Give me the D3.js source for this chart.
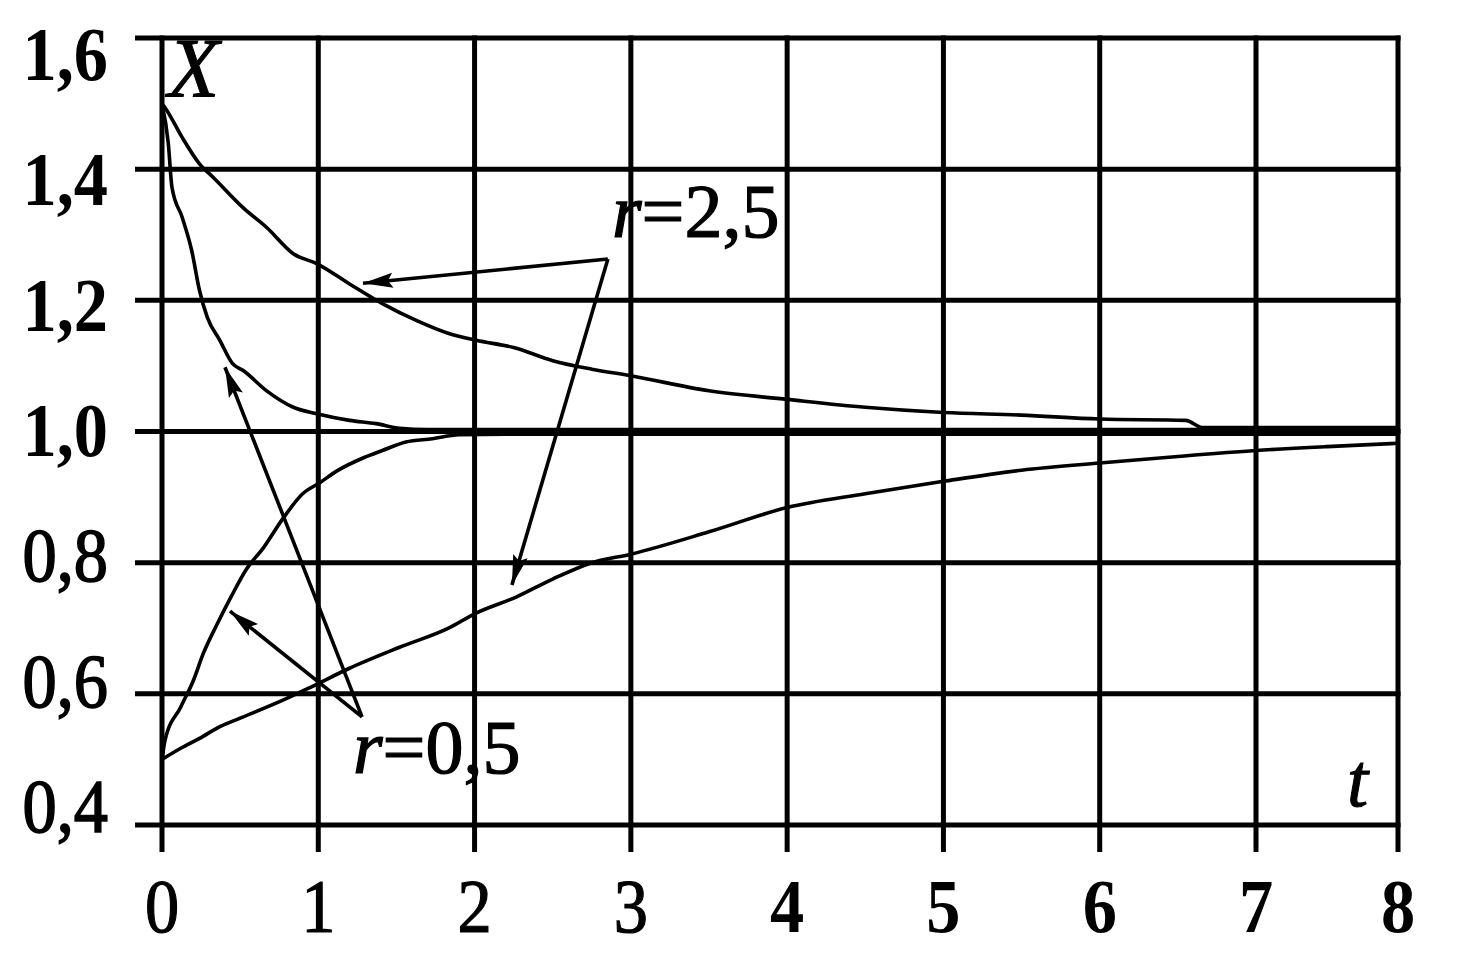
<!DOCTYPE html>
<html>
<head>
<meta charset="utf-8">
<script src="https://cdn.jsdelivr.net/npm/d3@7"></script>
<style>
  html, body { margin: 0; padding: 0; background: #fff; }
  svg { display: block; }
  text { font-family: "Liberation Serif", "Times New Roman", serif; fill: #000; }
</style>
</head>
<body>
<svg id="chart" width="1466" height="980"></svg>
<script>
// ---------- data ----------
const tTicks = [0, 1, 2, 3, 4, 5, 6, 7, 8];
const tTickLabels = ["0", "1", "2", "3", "4", "5", "6", "7", "8"];
const xTicks = [0.4, 0.6, 0.8, 1.0, 1.2, 1.4, 1.6];
const xTickLabels = ["0,4", "0,6", "0,8", "1,0", "1,2", "1,4", "1,6"];

// r = 2,5 : slow decay from 1.5
const upperR25T = [0, 0.03, 0.13, 0.24, 0.33, 0.52, 0.67, 0.84, 0.99, 1.2, 1.41, 1.63, 1.84, 2.01, 2.25, 2.5, 2.75, 3.0, 3.5, 4.0, 4.5, 5.0, 5.5, 6.0, 6.55, 6.66, 7.0, 7.5, 8.0];
const upperR25X = [1.50, 1.49, 1.448, 1.408, 1.387, 1.341, 1.311, 1.271, 1.256, 1.225, 1.195, 1.169, 1.149, 1.139, 1.128, 1.108, 1.095, 1.085, 1.062, 1.049, 1.037, 1.029, 1.025, 1.019, 1.017, 1.006, 1.006, 1.006, 1.006];
// r = 2,5 : slow rise from 0.5
const lowerR25T = [0, 0.12, 0.24, 0.37, 0.5, 0.77, 0.95, 1.2, 1.52, 1.84, 2.0, 2.27, 2.5, 2.75, 3.0, 3.5, 4.0, 4.5, 5.0, 5.5, 6.0, 6.5, 7.0, 7.5, 8.0];
const lowerR25X = [0.50, 0.517, 0.532, 0.55, 0.563, 0.59, 0.61, 0.639, 0.671, 0.701, 0.722, 0.748, 0.775, 0.80, 0.813, 0.847, 0.884, 0.905, 0.924, 0.941, 0.952, 0.962, 0.971, 0.977, 0.982];
// r = 0,5 : fast decay from 1.5
const upperR05T = [0, 0.04, 0.064, 0.13, 0.19, 0.24, 0.29, 0.37, 0.45, 0.52, 0.67, 0.84, 0.99, 1.2, 1.37, 1.52, 1.7, 2.0, 8.0];
const upperR05X = [1.50, 1.44, 1.372, 1.326, 1.276, 1.215, 1.174, 1.139, 1.104, 1.093, 1.062, 1.037, 1.027, 1.017, 1.012, 1.005, 1.003, 1.003, 1.003];
// r = 0,5 : fast rise from 0.5
const lowerR05T = [0, 0.02, 0.12, 0.2, 0.265, 0.35, 0.44, 0.54, 0.65, 0.77, 0.9, 1.01, 1.12, 1.29, 1.41, 1.56, 1.73, 1.9, 2.2, 8.0];
const lowerR05X = [0.50, 0.53, 0.58, 0.62, 0.662, 0.705, 0.747, 0.79, 0.823, 0.866, 0.905, 0.922, 0.94, 0.96, 0.971, 0.984, 0.989, 0.995, 0.996, 0.996];

// annotations (data coordinates)
const arrowsR25 = [ { from: [2.853, 1.263], to: [1.286, 1.226] }, { from: [2.853, 1.263], to: [2.239, 0.766] } ];
const arrowsR05 = [ { from: [1.28, 0.565], to: [0.403, 1.098] }, { from: [1.28, 0.565], to: [0.435, 0.726] } ];
const labelR25 = { t: 2.879, x: 1.297, value: "2,5" };
const labelR05 = { t: 1.222, x: 0.479, value: "0,5" };
const axisNameX = { t: 0.038, x: 1.51, text: "X" };
const axisNameT = { t: 7.64, x: 0.429, text: "t" };

// ---------- drawing ----------
const svg = d3.select("#chart");
svg.append("rect").attr("width", 1466).attr("height", 980).attr("fill", "#fff");

const x = d3.scaleLinear().domain([0, 7, 8]).range([162, 1256, 1398]);
const y = d3.scaleLinear().domain([0.4, 1.6]).range([825, 38]);
const yLab = d3.scaleLinear().domain([0.4, 1.6]).range([832, 80]);

const FS = 76, SX = 0.9, tickExt = 27;

const grid = svg.append("g").attr("stroke", "#000").attr("stroke-width", 5).attr("stroke-linecap", "butt");
// horizontal grid lines (with tick stubs on the left)
grid.selectAll("line.h").data(xTicks).join("line")
  .attr("x1", x(0) - tickExt).attr("x2", x(8) + 2.5)
  .attr("y1", d => y(d)).attr("y2", d => y(d));
// vertical grid lines (with tick stubs below)
grid.selectAll("line.v").data(tTicks).join("line")
  .attr("x1", d => x(d)).attr("x2", d => x(d))
  .attr("y1", y(1.6) - 2.5).attr("y2", y(0.4) + tickExt);

// tick labels
svg.append("g").selectAll("text").data(xTicks).join("text")
  .attr("transform", d => `translate(108,${yLab(d)}) scale(${SX},1)`)
  .attr("text-anchor", "end")
  .attr("font-size", FS)
  .attr("font-weight", d => d >= 1.0 ? "bold" : "normal")
  .attr("stroke", d => d >= 1.0 ? "none" : "#000")
  .attr("stroke-width", 1.6)
  .text((d, i) => xTickLabels[i]);

svg.append("g").selectAll("text").data(tTicks).join("text")
  .attr("transform", d => `translate(${x(d)},932) scale(${SX},1)`)
  .attr("text-anchor", "middle")
  .attr("font-size", FS)
  .attr("font-weight", d => d >= 4 ? "bold" : "normal")
  .attr("stroke", d => d >= 4 ? "none" : "#000")
  .attr("stroke-width", 1.2)
  .text((d, i) => tTickLabels[i]);

// curves
const line = d3.line().x(d => x(d[0])).y(d => y(d[1])).curve(d3.curveMonotoneX);
const series = [
  [upperR25T, upperR25X], [lowerR25T, lowerR25X],
  [upperR05T, upperR05X], [lowerR05T, lowerR05X]
];
svg.append("g").selectAll("path").data(series).join("path")
  .attr("d", s => line(s[0].map((t, i) => [t, s[1][i]])))
  .attr("fill", "none").attr("stroke", "#000").attr("stroke-width", 3.6)
  .attr("stroke-linejoin", "round");

// arrowheads
svg.append("defs").append("marker")
  .attr("id", "ah").attr("markerUnits", "userSpaceOnUse")
  .attr("markerWidth", 32).attr("markerHeight", 20)
  .attr("viewBox", "0 0 32 20").attr("refX", 30).attr("refY", 10)
  .attr("orient", "auto")
  .append("path").attr("d", "M0,2.5 L30,10 L0,17.5 L5,10 Z").attr("fill", "#000");

svg.append("g").selectAll("line").data(arrowsR25.concat(arrowsR05)).join("line")
  .attr("x1", d => x(d.from[0])).attr("y1", d => y(d.from[1]))
  .attr("x2", d => x(d.to[0])).attr("y2", d => y(d.to[1]))
  .attr("stroke", "#000").attr("stroke-width", 3.6)
  .attr("marker-end", "url(#ah)");

// annotation labels
function rLabel(lab) {
  const t = svg.append("text")
    .attr("transform", `translate(${x(lab.t)},${y(lab.x)})`)
    .attr("font-size", FS).attr("stroke", "#000").attr("stroke-width", 1.2);
  t.append("tspan").attr("font-style", "italic").text("r");
  t.append("tspan").text("=" + lab.value);
}
rLabel(labelR25);
rLabel(labelR05);

svg.append("text")
  .attr("transform", `translate(${x(axisNameX.t)},${y(axisNameX.x)})`)
  .attr("font-size", 84).attr("font-style", "italic")
  .attr("stroke", "#000").attr("stroke-width", 1)
  .text(axisNameX.text);
svg.append("text")
  .attr("transform", `translate(${x(axisNameT.t)},${y(axisNameT.x)})`)
  .attr("font-size", FS).attr("font-style", "italic")
  .attr("stroke", "#000").attr("stroke-width", 1)
  .text(axisNameT.text);
</script>
</body>
</html>
